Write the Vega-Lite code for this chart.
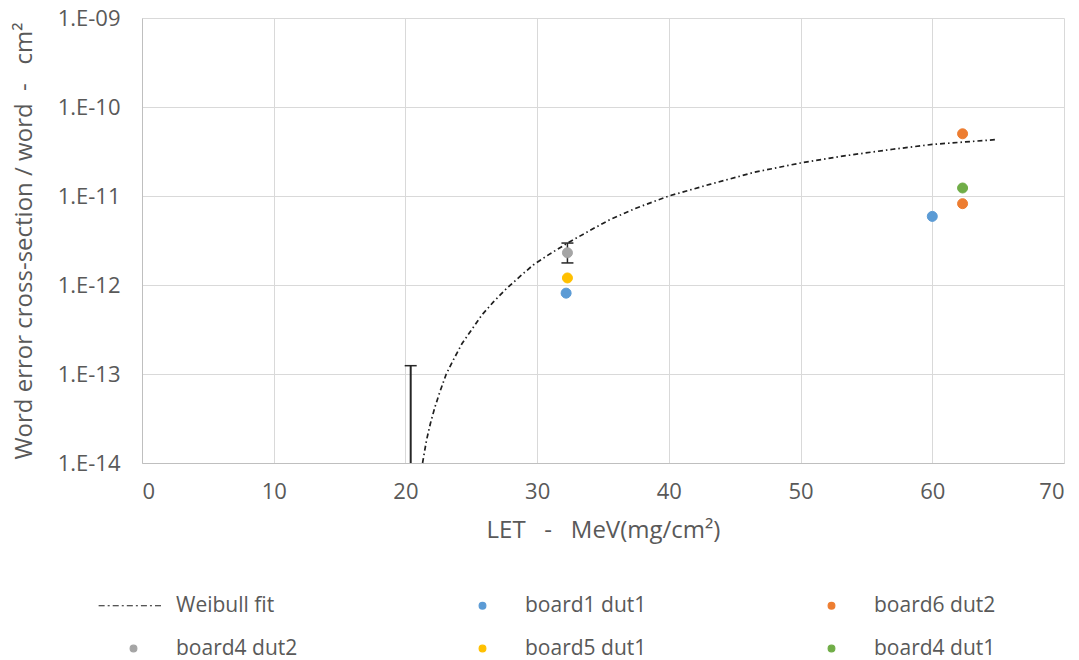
{
  "$schema": "https://vega.github.io/schema/vega-lite/v6.json",
  "width": 922,
  "height": 445,
  "autosize": {"type": "none"},
  "padding": {"left": 142, "top": 18, "right": 15, "bottom": 197},
  "background": "#ffffff",
  "config": {
    "view": {"stroke": null},
    "font": "Open Sans",
    "axis": {
      "labelFont": "Open Sans", "labelFontSize": 22, "labelColor": "#595959",
      "titleFont": "Open Sans", "titleFontSize": 24, "titleColor": "#595959", "titleFontWeight": "normal",
      "gridColor": "#d9d9d9", "gridWidth": 1, "domainColor": "#bfbfbf", "ticks": false
    },
    "legend": {
      "labelFont": "Open Sans", "labelFontSize": 21, "labelColor": "#595959"
    }
  },
  "datasets": {
    "fit": [
      {"let": 21.3, "xs": 1.0e-14},
      {"let": 21.6, "xs": 1.8e-14},
      {"let": 21.9, "xs": 2.8e-14},
      {"let": 22.25, "xs": 4.3e-14},
      {"let": 22.6, "xs": 6.2e-14},
      {"let": 23.1, "xs": 1.0e-13},
      {"let": 23.7, "xs": 1.5e-13},
      {"let": 24.3, "xs": 2.2e-13},
      {"let": 25.0, "xs": 3.1e-13},
      {"let": 25.8, "xs": 4.6e-13},
      {"let": 26.7, "xs": 6.5e-13},
      {"let": 27.7, "xs": 9.2e-13},
      {"let": 28.7, "xs": 1.25e-12},
      {"let": 29.7, "xs": 1.68e-12},
      {"let": 31.0, "xs": 2.25e-12},
      {"let": 32.3, "xs": 2.95e-12},
      {"let": 34.0, "xs": 4.1e-12},
      {"let": 35.5, "xs": 5.4e-12},
      {"let": 37.5, "xs": 7.3e-12},
      {"let": 40.0, "xs": 1.0e-11},
      {"let": 43.1, "xs": 1.35e-11},
      {"let": 46.5, "xs": 1.85e-11},
      {"let": 50.0, "xs": 2.35e-11},
      {"let": 53.5, "xs": 2.85e-11},
      {"let": 57.0, "xs": 3.35e-11},
      {"let": 60.0, "xs": 3.8e-11},
      {"let": 62.5, "xs": 4.05e-11},
      {"let": 64.8, "xs": 4.3e-11}
    ],
    "pts": [
      {"series": "board1 dut1", "let": 32.2, "xs": 8.1e-13},
      {"series": "board1 dut1", "let": 60.0, "xs": 5.9e-12},
      {"series": "board6 dut2", "let": 62.3, "xs": 5.0e-11},
      {"series": "board6 dut2", "let": 62.3, "xs": 8.2e-12},
      {"series": "board4 dut2", "let": 32.3, "xs": 2.3e-12},
      {"series": "board5 dut1", "let": 32.3, "xs": 1.2e-12},
      {"series": "board4 dut1", "let": 62.3, "xs": 1.23e-11}
    ],
    "err": [
      {"let": 20.4, "lo": 1.0e-14, "hi": 1.24e-13, "w": 2},
      {"let": 32.3, "lo": 1.77e-12, "hi": 2.96e-12, "w": 1.5}
    ],
    "caps": [
      {"let": 20.4, "xs": 1.24e-13},
      {"let": 32.3, "xs": 2.96e-12},
      {"let": 32.3, "xs": 1.77e-12}
    ]
  },
  "layer": [
    {
      "data": {"name": "fit"},
      "mark": {"type": "line", "color": "#1f1f1f", "strokeWidth": 1.7, "strokeDash": [5, 3, 1.5, 3]},
      "encoding": {
        "x": {
          "field": "let", "type": "quantitative",
          "scale": {"domain": [0, 70], "nice": false, "zero": false},
          "axis": {"values": [0, 10, 20, 30, 40, 50, 60, 70], "labelPadding": 18, "titlePadding": 16,
                   "title": "LET\u00a0\u00a0\u00a0-\u00a0\u00a0\u00a0MeV(mg/cm²)"}
        },
        "y": {
          "field": "xs", "type": "quantitative",
          "scale": {"type": "log", "domain": [1e-14, 1e-9], "nice": false},
          "axis": {
            "values": [1e-14, 1e-13, 1e-12, 1e-11, 1e-10, 1e-9],
            "labelExpr": "'1.E-' + (round(-log(datum.value)/LN10) < 10 ? '0' : '') + round(-log(datum.value)/LN10)",
            "labelPadding": 22, "titlePadding": 21, "titleFontSize": 24,
            "title": "Word error cross-section / word\u00a0\u00a0-\u00a0\u00a0\u00a0cm²"
          }
        }
      }
    },
    {
      "data": {"name": "err"},
      "mark": {"type": "rule", "color": "#262626"},
      "encoding": {
        "x": {"field": "let", "type": "quantitative"},
        "y": {"field": "lo", "type": "quantitative"},
        "y2": {"field": "hi"},
        "strokeWidth": {"field": "w", "type": "quantitative", "scale": null}
      }
    },
    {
      "data": {"name": "caps"},
      "mark": {"type": "tick", "orient": "horizontal", "color": "#262626", "size": 12, "thickness": 1.5, "opacity": 1},
      "encoding": {
        "x": {"field": "let", "type": "quantitative"},
        "y": {"field": "xs", "type": "quantitative"}
      }
    },
    {
      "data": {"name": "pts"},
      "mark": {"type": "point", "shape": "circle", "size": 100, "opacity": 1, "strokeWidth": 1},
      "encoding": {
        "x": {"field": "let", "type": "quantitative"},
        "y": {"field": "xs", "type": "quantitative"},
        "fill": {
          "field": "series", "type": "nominal",
          "scale": {
            "domain": ["Weibull fit", "board1 dut1", "board6 dut2", "board4 dut2", "board5 dut1", "board4 dut1"],
            "range": ["#000000", "#5B9BD5", "#ED7D31", "#A5A5A5", "#FFC000", "#70AD47"]
          },
          "legend": {
            "title": null, "orient": "none", "legendX": -19, "legendY": 577, "columns": 3,
            "direction": "horizontal", "gridAlign": "all", "columnPadding": 174, "rowPadding": 21,
            "symbolSize": 45, "symbolStrokeWidth": 1.2, "labelOffset": 32, "labelLimit": 300
          }
        },
        "stroke": {
          "field": "series", "type": "nominal",
          "scale": {
            "domain": ["Weibull fit", "board1 dut1", "board6 dut2", "board4 dut2", "board5 dut1", "board4 dut1"],
            "range": ["#1f1f1f", "#5B9BD5", "#ED7D31", "#A5A5A5", "#FFC000", "#70AD47"]
          },
          "legend": {
            "title": null, "orient": "none", "legendX": -19, "legendY": 577, "columns": 3,
            "direction": "horizontal", "gridAlign": "all", "columnPadding": 174, "rowPadding": 21,
            "symbolSize": 45, "symbolStrokeWidth": 1.2, "labelOffset": 32, "labelLimit": 300
          }
        },
        "shape": {
          "field": "series", "type": "nominal",
          "scale": {
            "domain": ["Weibull fit", "board1 dut1", "board6 dut2", "board4 dut2", "board5 dut1", "board4 dut1"],
            "range": ["M-10.4,0H-8.6M-7.7,0H-7.1M-6.2,0H-4.4M-3.5,0H-2.9M-2,0H-0.2M0.7,0H1.3M2.2,0H4M4.9,0H5.5M6.4,0H8.2", "circle", "circle", "circle", "circle", "circle"]
          },
          "legend": {
            "title": null, "orient": "none", "legendX": -19, "legendY": 577, "columns": 3,
            "direction": "horizontal", "gridAlign": "all", "columnPadding": 174, "rowPadding": 21,
            "symbolSize": 45, "symbolStrokeWidth": 1.2, "labelOffset": 32, "labelLimit": 300
          }
        }
      }
    }
  ]
}
